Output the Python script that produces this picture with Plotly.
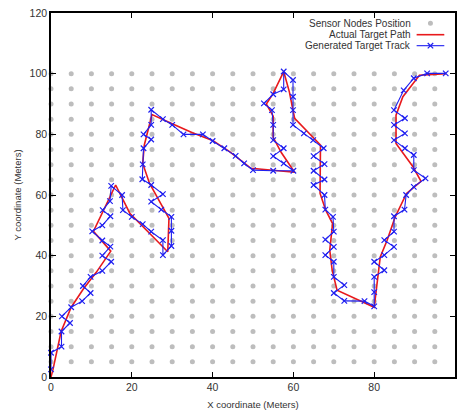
import itertools
import plotly.graph_objects as go

# Sensor node layout (metres)
sensor_cols = list(range(0, 100, 5))
sensor_rows = list(range(5, 101, 5))

# Actual target path
actual_x = [0, 0.5, 2.5, 5, 8, 11.2, 14.8, 10.5, 16, 19.5, 28.9, 29.2, 24.4, 22.7, 23.1,
            25, 30, 35, 40, 44.2, 49.5, 60.3, 57, 55, 55, 53.3, 55, 57.6, 59, 60.3,
            66.7, 66.7, 66.6, 68, 69.7, 69, 69.6, 70.8, 80, 81.5, 83.2, 85.2, 88, 91.6,
            89.6, 85.4, 85.4, 87.1, 91.2, 97.8]
actual_y = [0, 2.5, 15, 23, 29, 34.5, 41.5, 48, 63.3, 54, 41.3, 52.3, 63.8, 70.4, 76.5,
            86.5, 83.5, 80.5, 78, 74.3, 68.8, 67.5, 74, 79, 86, 90, 93.5, 100.7, 94, 85.3,
            76.5, 73.7, 60.5, 55, 50.6, 41.8, 35.2, 28.6, 23, 39.6, 45.1, 52.8, 60.5, 64.5,
            69.3, 77, 86.3, 92.4, 99.5, 100]

# Generated target track
track_x = [0, 0, 2.6, 2.6, 4.7, 2.7, 5, 7.7, 9.8, 7.9, 9.8, 12.7, 14.9, 12.7, 14.7,
           12.7, 10.2, 12.7, 14.7, 12.8, 14.6, 14.9, 17.6, 17.8, 20, 22.7, 24.8, 27.7,
           27.7, 29.8, 29.8, 29.8, 27.3, 24.8, 27.7, 24.8, 22.6, 22.7, 22.9, 24.8, 22.9,
           24.8, 24.8, 27.7, 30, 32.8, 37.6, 40, 42.9, 45.7, 47.8, 50, 55, 60, 57.6, 55,
           57.6, 55, 55, 54.7, 52.7, 55, 57.6, 57.6, 59.9, 59.9, 59.9, 59.9, 62.6, 64.9,
           67.5, 65, 67.7, 65, 67.7, 65, 67.7, 67.9, 69.8, 70, 67.9, 70, 67.9, 70, 70,
           72.6, 70, 72.6, 77.6, 80, 80, 80, 82.5, 80, 82.5, 84.9, 82.5, 84.9, 84.9, 87.5,
           87.9, 89.8, 92.7, 89.8, 89.8, 87.6, 84.9, 87.6, 84.9, 87.6, 84.9, 87.3, 89.8,
           93.1, 97.7]
track_y = [2.5, 8, 10, 15, 17.8, 20, 23, 25, 27.7, 30, 33, 35, 38, 40, 43,
           45, 48, 50, 53, 55, 58, 63, 60, 55, 52.8, 50.4, 47.9, 45.1,
           40.2, 43.2, 48.2, 52.8, 55.2, 57.8, 60.3, 63.3, 65.2, 70.1, 75.4, 78.3, 80,
           83.1, 88.1, 85, 83.1, 80, 80, 77.8, 75.4, 72.9, 70.4, 68.2, 68, 68, 70.4, 72.8,
           75.4, 78.1, 83.1, 88, 90.2, 93.2, 94.8, 100.7, 97.9, 92.4, 88, 83.1, 80.3, 78.1,
           75.4, 72.8, 70.2, 68, 65.1, 63.3, 60, 55.2, 52.8, 47.9, 45.3, 42.9, 40.2, 38, 33,
           30.3, 27.7, 25.1, 25, 23.3, 28, 33, 35.2, 38, 40.2, 42.9, 45.1, 47.9, 53, 55.2,
           60, 62.7, 65.5, 68.2, 73.2, 75.4, 78.1, 80.3, 83.1, 85.3, 88, 94.5, 98.5,
           100.1, 100.1]

x_ticks = [0, 20, 40, 60, 80, 100]
y_ticks = [0, 20, 40, 60, 80, 100, 120]

legend_labels = ["Sensor Nodes Position", "Actual Target Path", "Generated Target Track"]

GRAY = "#bdbdbd"
RED = "#e8191c"
BLUE = "#1f1ff0"
FONT = "Liberation Sans, Arial, sans-serif"

grid = list(itertools.product(sensor_cols, sensor_rows))
sensor_x = [p[0] for p in grid]
sensor_y = [p[1] for p in grid]

fig = go.Figure()
fig.add_trace(go.Scatter(
    x=sensor_x, y=sensor_y, mode="markers", name=legend_labels[0],
    marker=dict(color=GRAY, size=5), cliponaxis=False, showlegend=False))
fig.add_trace(go.Scatter(
    x=actual_x, y=actual_y, mode="lines", name=legend_labels[1],
    line=dict(color=RED, width=1.6), cliponaxis=False, showlegend=False))
fig.add_trace(go.Scatter(
    x=track_x, y=track_y, mode="lines+markers", name=legend_labels[2],
    line=dict(color=BLUE, width=1.1),
    marker=dict(symbol="x-thin-open", size=5.5, line=dict(color=BLUE, width=1.2)),
    cliponaxis=False, showlegend=False))

# Legend block, top right: labels right-aligned with the key drawn to their right
row_y = [0.9717, 0.9404, 0.9102]
text_x = 0.895
key_x0, key_x1 = 0.905, 0.9735
key_xc = (key_x0 + key_x1) / 2
annotations = []
for lbl, yy in zip(legend_labels, row_y):
    annotations.append(dict(
        text=lbl, xref="paper", yref="paper", x=text_x, y=yy,
        xanchor="right", yanchor="middle", showarrow=False,
        font=dict(family=FONT, size=10, color="#333333")))

shapes = [
    dict(type="circle", xref="paper", yref="paper",
         x0=key_xc - 0.0062, x1=key_xc + 0.0062,
         y0=row_y[0] - 0.0069, y1=row_y[0] + 0.0069,
         fillcolor=GRAY, line=dict(width=0)),
    dict(type="line", xref="paper", yref="paper",
         x0=key_x0, x1=key_x1, y0=row_y[1], y1=row_y[1],
         line=dict(color=RED, width=1.6)),
    dict(type="line", xref="paper", yref="paper",
         x0=key_x0, x1=key_x1, y0=row_y[2], y1=row_y[2],
         line=dict(color=BLUE, width=1.1)),
]
dx, dy = 0.0068, 0.0075
shapes.append(dict(
    type="path", xref="paper", yref="paper",
    path=(f"M {key_xc - dx} {row_y[2] - dy} L {key_xc + dx} {row_y[2] + dy} "
          f"M {key_xc - dx} {row_y[2] + dy} L {key_xc + dx} {row_y[2] - dy}"),
    line=dict(color=BLUE, width=1.2)))

axis_common = dict(
    showgrid=False, zeroline=False, showline=True, linecolor="black", linewidth=1.5,
    mirror="ticks", ticks="inside", ticklen=5, tickwidth=1, tickcolor="black",
    tickfont=dict(family=FONT, size=10.5, color="#333333"),
)

fig.update_layout(
    width=462, height=415,
    margin=dict(l=51, r=7, t=13, b=38, autoexpand=False),
    paper_bgcolor="white", plot_bgcolor="white",
    font=dict(family=FONT),
    annotations=annotations, shapes=shapes,
    xaxis=dict(range=[0, 100], tickvals=x_ticks, **axis_common,
               title=dict(text="X coordinate (Meters)", standoff=9,
                          font=dict(family=FONT, size=9.5, color="#333333"))),
    yaxis=dict(range=[0, 120], tickvals=y_ticks, **axis_common,
               title=dict(text="Y coordinate (Meters)", standoff=6,
                          font=dict(family=FONT, size=9.5, color="#333333"))),
)

fig.write_html("out.html")
